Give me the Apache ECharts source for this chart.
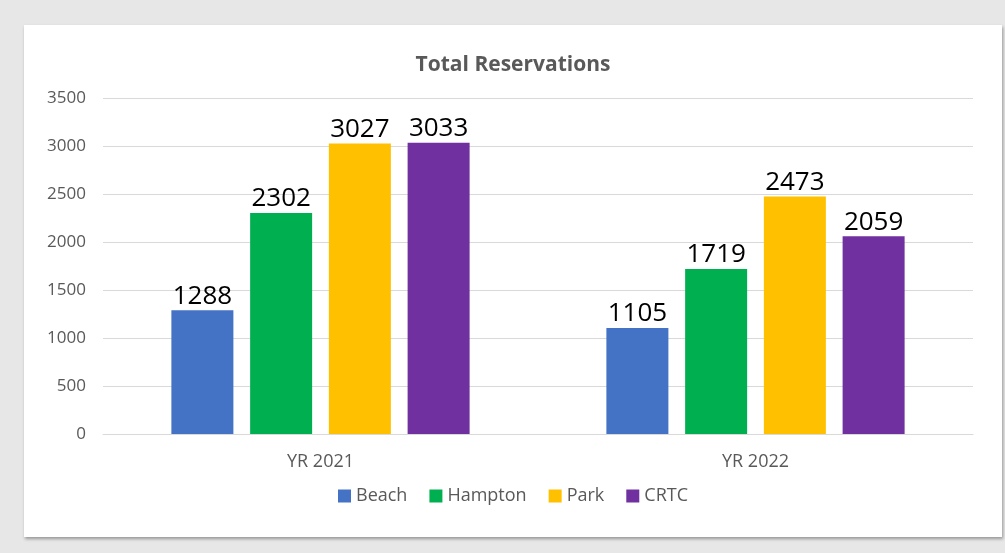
<!DOCTYPE html>
<html>
<head>
<meta charset="utf-8">
<script src="https://cdn.jsdelivr.net/npm/echarts@6/dist/echarts.min.js"></script>
<style>
    html, body { margin: 0; padding: 0; background: #e7e7e7; }
    #card {
        position: absolute; left: 24px; top: 25px; width: 978px; height: 512px;
        background: #fff; box-shadow: 1px 2px 3px rgba(0,0,0,0.35);
    }
</style>
</head>
<body>
<div id="card"></div>
<script>
var categories = ['YR 2021', 'YR 2022']
var beach = [1288, 1105]
var hampton = [2302, 1719]
var park = [3027, 2473]
var crtc = [3033, 2059]
var yTicks = [0, 500, 1000, 1500, 2000, 2500, 3000, 3500]

var font = '"Open Sans", sans-serif'

function makeSeries(name, data, color) {
    return {
        name: name,
        type: 'bar',
        data: data,
        barWidth: 62,
        barGap: '27%',
        itemStyle: { color: color },
        label: {
            show: true,
            position: 'top',
            distance: 1,
            color: '#000',
            fontFamily: font,
            fontSize: 26
        }
    }
}

var chart = echarts.init(document.getElementById('card'))
var option = {
    animation: false,
    textStyle: { fontFamily: font },
    title: {
        text: 'Total Reservations',
        left: 'center',
        top: 25,
        textStyle: { color: '#595959', fontSize: 21, fontWeight: 'bold', fontFamily: font }
    },
    legend: {
        bottom: 27,
        left: 'center',
        itemWidth: 13,
        itemHeight: 13,
        itemGap: 22,
        icon: 'rect',
        textStyle: { color: '#595959', fontSize: 18, fontFamily: font },
        data: ['Beach', 'Hampton', 'Park', 'CRTC']
    },
    grid: { left: 79, right: 29, top: 73, bottom: 103, containLabel: false },
    xAxis: {
        type: 'category',
        data: categories,
        axisTick: { show: false },
        axisLine: { lineStyle: { color: '#d9d9d9' } },
        axisLabel: { color: '#595959', fontSize: 18, margin: 19, fontFamily: font }
    },
    yAxis: {
        type: 'value',
        min: yTicks[0],
        max: yTicks[yTicks.length - 1],
        interval: 500,
        axisLine: { show: false },
        axisTick: { show: false },
        splitLine: { lineStyle: { color: '#d9d9d9' } },
        axisLabel: {
            color: '#595959', fontSize: 17, margin: 17, fontFamily: font,
            formatter: function (v) { return String(v) }
        }
    },
    series: [
        makeSeries('Beach', beach, '#4472C4'),
        makeSeries('Hampton', hampton, '#00B050'),
        makeSeries('Park', park, '#FFC000'),
        makeSeries('CRTC', crtc, '#7030A0')
    ]
}
chart.setOption(option)
</script>
</body>
</html>
